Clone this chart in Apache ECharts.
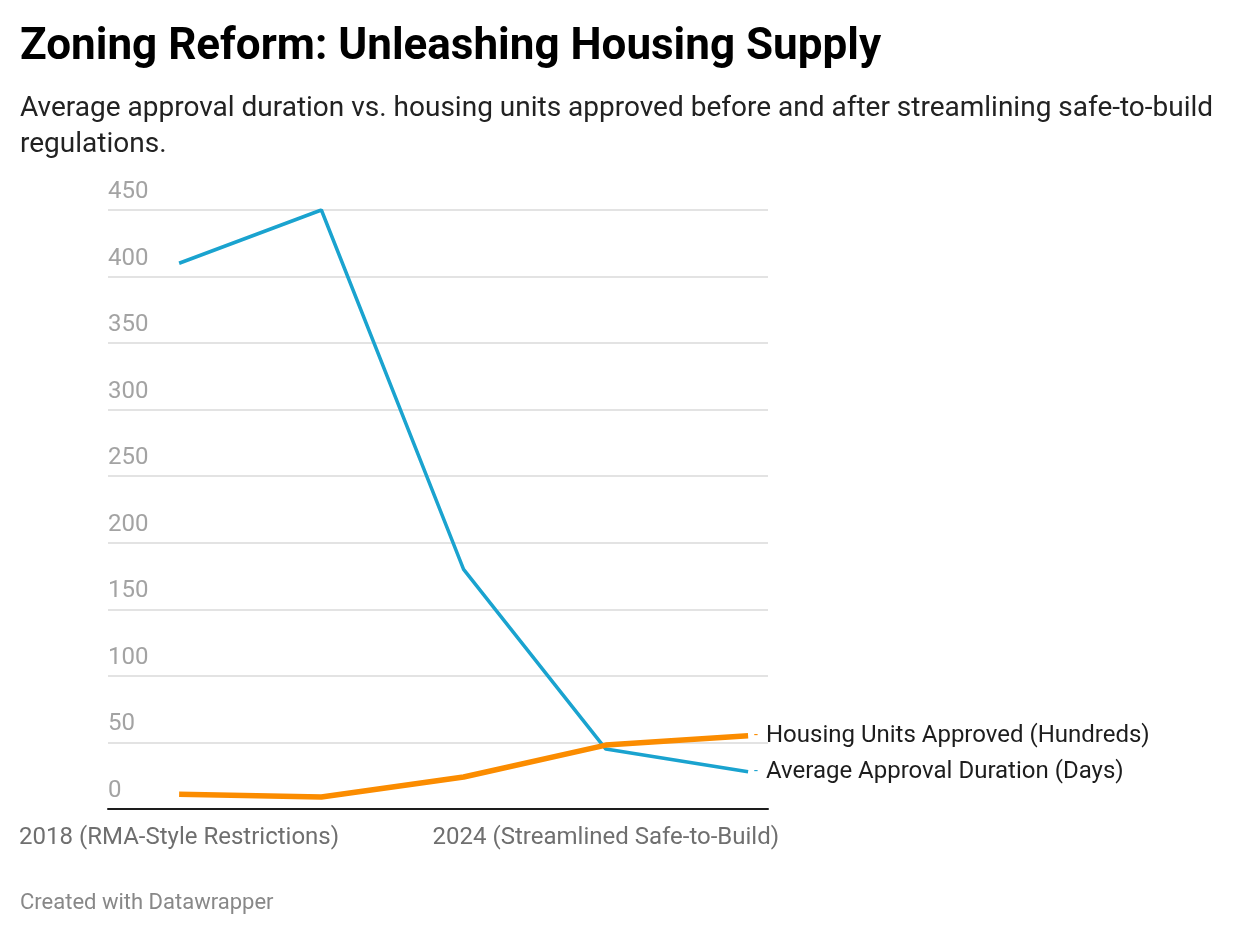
<!DOCTYPE html>
<html>
<head>
<meta charset="utf-8">
<script src="https://cdn.jsdelivr.net/npm/echarts@6/dist/echarts.min.js"></script>
<style>
html,body{margin:0;padding:0;background:#fff;}
#chart{width:1240px;height:936px;}
</style>
</head>
<body>
<div id="chart"></div>
<script>
const categories = [
  "2018 (RMA-Style Restrictions)",
  "2020",
  "2022",
  "2024 (Streamlined Safe-to-Build)",
  "2025"
];
const labelledCategories = [0, 3];
const durationDays = [410, 450, 180, 45, 28];
const housingUnitsHundreds = [11, 9, 24, 48, 55];
const yTicks = [0, 50, 100, 150, 200, 250, 300, 350, 400, 450];

const chart = echarts.init(document.getElementById('chart'));
const FONT = 'Roboto';

function pairs(vals) { return vals.map((v, i) => [i, v]); }

function endLabel(color) {
  return {
    show: true,
    distance: 6,
    formatter: p => '{d|-}{t|' + p.seriesName + '}',
    rich: {
      d: { color: color, fontSize: 14, fontFamily: FONT, padding: [0, 8, 0, 0] },
      t: { color: '#1d1d1d', fontSize: 24, fontFamily: FONT }
    }
  };
}

chart.setOption({
  animation: false,
  backgroundColor: '#ffffff',
  title: [
    {
      text: 'Zoning Reform: Unleashing Housing Supply',
      left: 20, top: 26, padding: 0,
      textStyle: { fontFamily: FONT, fontWeight: 'bold', fontSize: 44, color: '#000' }
    },
    {
      text: 'Average approval duration vs. housing units approved before and after streamlining safe-to-build\nregulations.',
      left: 20, top: 91, padding: 0,
      textStyle: { fontFamily: FONT, fontWeight: 'normal', fontSize: 28, lineHeight: 36, color: '#222' }
    },
    {
      text: 'Created with Datawrapper',
      left: 20, top: 892, padding: 0,
      textStyle: { fontFamily: FONT, fontWeight: 'normal', fontSize: 22, color: '#888' }
    }
  ],
  grid: { left: 108, right: 472, top: 210, bottom: 127, containLabel: false },
  xAxis: {
    type: 'value',
    min: -0.5,
    max: 4.14,
    axisLine: { show: true, onZero: false, lineStyle: { color: '#1d1d1d', width: 2 } },
    axisTick: { show: false },
    splitLine: { show: false },
    axisLabel: {
      customValues: labelledCategories,
      formatter: v => categories[Math.round(v)],
      fontFamily: FONT, fontSize: 24, color: '#6f6f6f', margin: 17
    }
  },
  yAxis: {
    type: 'value',
    min: 0, max: 450, interval: 50,
    axisLine: { show: false },
    axisTick: { show: false },
    splitLine: { show: true, lineStyle: { color: '#e3e3e3', width: 2 } },
    axisLabel: {
      inside: true,
      margin: 0,
      verticalAlign: 'bottom',
      padding: [0, 0, 6, 0],
      formatter: v => yTicks.includes(v) ? String(v) : '',
      fontFamily: FONT, fontSize: 24, color: '#a3a3a3'
    }
  },
  series: [
    {
      name: 'Average Approval Duration (Days)',
      type: 'line',
      data: pairs(durationDays),
      symbol: 'none',
      lineStyle: { color: '#1aa3cf', width: 3.5 },
      itemStyle: { color: '#1aa3cf' },
      endLabel: endLabel('#1aa3cf'),
      z: 3
    },
    {
      name: 'Housing Units Approved (Hundreds)',
      type: 'line',
      data: pairs(housingUnitsHundreds),
      symbol: 'none',
      lineStyle: { color: '#fb8c00', width: 5.5 },
      itemStyle: { color: '#fb8c00' },
      endLabel: endLabel('#fb8c00'),
      z: 4
    }
  ]
});
</script>
</body>
</html>
